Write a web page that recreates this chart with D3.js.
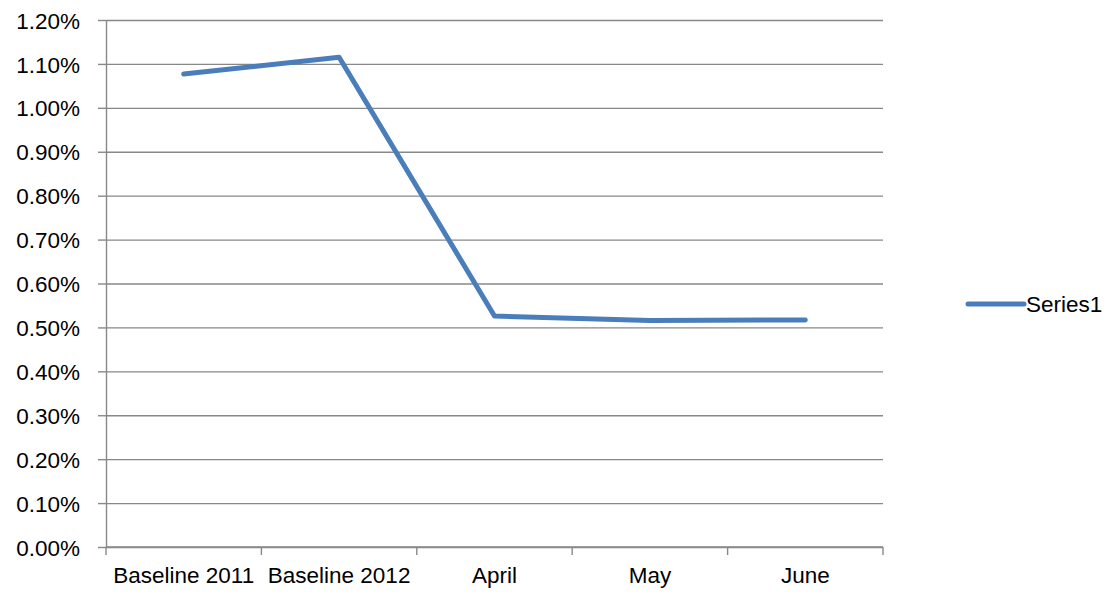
<!DOCTYPE html>
<meta charset="utf-8">
<style type="text/css">
body { margin: 0; background: #fff; }
svg text { font-family: "Liberation Sans", Arial, sans-serif; font-size: 22.5px; fill: #000; }
.grid line { stroke: #888; stroke-width: 1.4; }
.grid path { display: none; }
.y.axis path, .y.axis line { stroke: #888; stroke-width: 1.4; }
.x.axis path { display: none; }
.x.axis line { display: none; }
.xticks line { stroke: #888; stroke-width: 1.4; }
.line { fill: none; stroke: #4a7ebb; stroke-width: 5; stroke-linecap: round; stroke-linejoin: round; }
</style>
<body>
</body>
<script src="https://d3js.org/d3.v7.min.js"></script>
<script>

// chart data
var categories = ["Baseline 2011", "Baseline 2012", "April", "May", "June"];
var series1 = [0.01077, 0.01115, 0.00526, 0.00516, 0.00517];
var yTicks = [0, 0.001, 0.002, 0.003, 0.004, 0.005, 0.006, 0.007, 0.008, 0.009, 0.010, 0.011, 0.012];
var seriesName = "Series1";

var width = 1110, height = 597;
var plot = {left: 106, right: 883, top: 20, bottom: 547};

var svg = d3.select("body").append("svg")
    .attr("width", width)
    .attr("height", height);

var xScale = d3.scaleBand()
    .domain(categories)
    .range([plot.left, plot.right]);

var yScale = d3.scaleLinear()
    .domain([0, 0.012])
    .range([plot.bottom, plot.top]);

// horizontal gridlines
svg.append("g")
    .attr("class", "grid")
    .attr("transform", "translate(" + plot.left + ",0)")
    .call(d3.axisLeft(yScale).tickValues(yTicks)
        .tickSize(-(plot.right - plot.left)).tickFormat(""));

// y axis with percent labels
svg.append("g")
    .attr("class", "y axis")
    .attr("transform", "translate(" + plot.left + ",0)")
    .call(d3.axisLeft(yScale).tickValues(yTicks)
        .tickFormat(d3.format(".2%"))
        .tickSize(8).tickSizeOuter(0).tickPadding(18))
  .selectAll("text")
    .attr("dy", "0.36em");

// x axis line + ticks at category boundaries
var bounds = categories.map(function(c) { return xScale(c); }).concat([plot.right]);
var xt = svg.append("g").attr("class", "xticks");
xt.append("line")
    .attr("x1", plot.left).attr("x2", plot.right)
    .attr("y1", plot.bottom).attr("y2", plot.bottom);
xt.selectAll(".tk")
    .data(bounds)
  .enter().append("line")
    .attr("class", "tk")
    .attr("x1", function(d) { return d; })
    .attr("x2", function(d) { return d; })
    .attr("y1", plot.bottom)
    .attr("y2", plot.bottom + 8);

// x labels
svg.append("g")
    .attr("class", "x axis")
    .attr("transform", "translate(0," + plot.bottom + ")")
    .call(d3.axisBottom(xScale).tickSize(0).tickPadding(20))
  .selectAll("text")
    .attr("dy", "0.71em");

// the series line
var dataset = categories.map(function(c, i) { return {cat: c, value: series1[i]}; });
svg.append("path")
    .datum(dataset)
    .attr("class", "line")
    .attr("d", d3.line()
        .x(function(d) { return xScale(d.cat) + xScale.bandwidth() / 2; })
        .y(function(d) { return yScale(d.value); }));

// legend
var legend = svg.append("g").attr("transform", "translate(968,304)");
legend.append("line")
    .attr("class", "line")
    .attr("x1", 0).attr("x2", 56)
    .attr("y1", 0).attr("y2", 0);
legend.append("text")
    .attr("x", 58)
    .attr("dy", "0.36em")
    .text(seriesName);

</script>
